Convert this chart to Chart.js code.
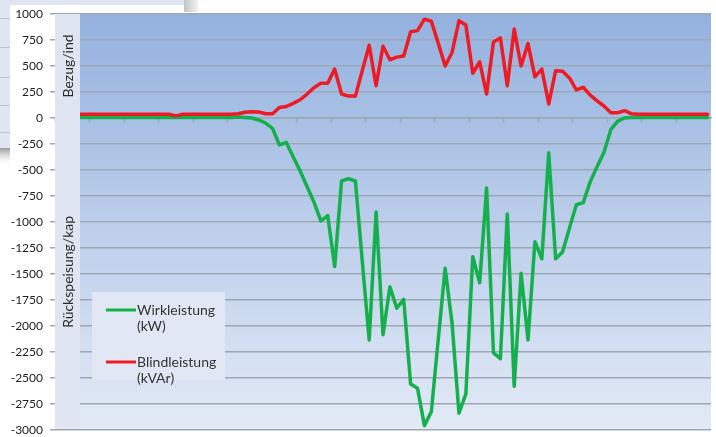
<!DOCTYPE html>
<html>
<head>
<meta charset="utf-8">
<script src="https://cdn.jsdelivr.net/npm/chart.js@4.4.1/dist/chart.umd.min.js"></script>
<style>
  html, body { margin: 0; padding: 0; background: #fff; }
  #wrap { width: 716px; height: 437px; }
</style>
</head>
<body>
<div id="wrap"><canvas id="chart" width="716" height="437"></canvas></div>
<script>
// one value every 15 minutes
var timeLabels = [];
for (var i = 1; i <= 95; i++) {
  var m = i * 15;
  timeLabels.push(String(Math.floor(m / 60)).padStart(2, '0') + ':' + String(m % 60).padStart(2, '0'));
}

var wirkleistung = [
  5, 5, 5, 5, 5, 5, 5, 5, 5, 5, 5, 5, 5, 5, 5, 5, 5, 5, 5, 5, 5, 5, 5, 5, 5, 5,
  8, 5, 0, -20, -50, -100, -260, -235, -375, -510, -660, -810, -990, -940,
  -1430, -605, -585, -605, -1380, -2135, -905, -2085, -1625, -1830, -1745,
  -2560, -2600, -2960, -2825, -2130, -1445, -1975, -2840, -2655, -1335, -1585,
  -675, -2260, -2315, -925, -2580, -1495, -2135, -1190, -1355, -335, -1355,
  -1290, -1060, -835, -815, -615, -470, -330, -110, -30, 0,
  5, 5, 5, 5, 5, 5, 5, 5, 5, 5, 5, 5
];

var blindleistung = [
  35, 35, 35, 35, 35, 35, 35, 35, 35, 35, 35, 35, 35, 35, 35, 35, 35, 20,
  35, 35, 35, 35, 35, 35, 35, 35,
  40, 55, 60, 58, 40, 40, 100, 110, 140, 175, 230, 290, 335, 335,
  470, 230, 210, 210, 455, 700, 310, 690, 560, 585, 595, 830, 840, 950, 930,
  720, 500, 630, 935, 895, 430, 540, 230, 730, 770, 310, 855, 500, 715, 395,
  470, 135, 455, 450, 385, 270, 295, 220, 165, 115, 50, 50, 70, 40,
  35, 35, 35, 35, 35, 35, 35, 35, 35, 35, 35
];

var yMin = -3000;
var yMax = 1000;
var yStep = 250;

var greenColor = '#14b04c';
var redColor = '#ee1b24';
var gridColor = '#9ea7b6';

var background = {
  id: 'background',
  beforeDraw: function (chart) {
    var c = chart.ctx, a = chart.chartArea;
    c.save();
    c.fillStyle = '#fff';
    c.fillRect(0, 0, chart.width, chart.height);
    // window lying behind the chart (top left)
    c.fillStyle = '#dfe6f1';
    c.fillRect(0, 0, 186, 148);
    c.strokeStyle = '#b9c3d3';
    c.lineWidth = 1;
    [18, 47, 77, 105, 132].forEach(function (y) {
      c.beginPath(); c.moveTo(0, y + 0.5); c.lineTo(186, y + 0.5); c.stroke();
    });
    var sh = c.createLinearGradient(0, 148, 0, 166);
    sh.addColorStop(0, '#9a9a9a'); sh.addColorStop(1, 'rgba(255,255,255,0)');
    c.fillStyle = sh;
    c.fillRect(0, 148, 30, 18);
    var sg = c.createLinearGradient(184, 0, 198, 0);
    sg.addColorStop(0, '#c4c4c4'); sg.addColorStop(1, '#f2f2f2');
    c.fillStyle = sg;
    c.fillRect(184, 0, 14, 12);
    // the chart card
    c.fillStyle = '#fff';
    c.fillRect(10, 5, 174, chart.height - 5);
    c.fillRect(10, 12, chart.width - 10, chart.height - 12);
    // plot area gradient
    var g = c.createLinearGradient(0, a.top, 0, a.bottom);
    g.addColorStop(0, '#94b2df');
    g.addColorStop(1, '#e3eaf6');
    c.fillStyle = g;
    c.fillRect(a.left, a.top, a.right - a.left, a.bottom - a.top);
    c.restore();
  }
};

function rotText(c, txt, x, y) {
  c.save();
  c.translate(x, y);
  c.rotate(-Math.PI / 2);
  c.fillText(txt, 0, 0);
  c.restore();
}

var overlay = {
  id: 'overlay',
  afterDatasetsDraw: function (chart) {
    var c = chart.ctx, a = chart.chartArea;
    var y0 = chart.scales.y.getPixelForValue(0);
    c.save();
    // axis title strip
    c.fillStyle = '#dfe6f1';
    c.fillRect(a.left, a.top, 25, a.bottom - a.top - 3);
    c.fillStyle = '#2b2b2b';
    c.font = '14px Lato';
    c.textAlign = 'center';
    c.textBaseline = 'middle';
    rotText(c, 'Bezug/ind', a.left + 13, (a.top + y0) / 2);
    rotText(c, 'Rückspeisung/kap', a.left + 13, (y0 + a.bottom) / 2 - 2);

    // legend box
    c.fillStyle = '#e1e8f4';
    c.fillRect(92, 292, 133, 88);
    var items = [
      { color: greenColor, lines: ['Wirkleistung', '(kW)'], y: 310 },
      { color: redColor, lines: ['Blindleistung', '(kVAr)'], y: 362 }
    ];
    c.textAlign = 'left';
    items.forEach(function (it) {
      c.strokeStyle = it.color;
      c.lineWidth = 3;
      c.beginPath(); c.moveTo(106, it.y); c.lineTo(136, it.y); c.stroke();
      c.fillStyle = '#333';
      c.fillText(it.lines[0], 137, it.y);
      c.fillText(it.lines[1], 137, it.y + 16);
    });
    c.restore();
  }
};

new Chart(document.getElementById('chart').getContext('2d'), {
  type: 'line',
  data: {
    labels: timeLabels,
    datasets: [
      {
        label: 'Wirkleistung (kW)',
        data: wirkleistung,
        borderColor: greenColor,
        borderWidth: 3.5,
        order: 1
      },
      {
        label: 'Blindleistung (kVAr)',
        data: blindleistung,
        borderColor: redColor,
        borderWidth: 3.5,
        order: 0
      }
    ]
  },
  options: {
    responsive: false,
    animation: false,
    devicePixelRatio: 1,
    layout: { autoPadding: false, padding: { left: 0, right: 5, top: 14, bottom: 7 } },
    elements: {
      point: { radius: 0 },
      line: { tension: 0, borderJoinStyle: 'round', borderCapStyle: 'round' }
    },
    plugins: {
      legend: { display: false },
      tooltip: { enabled: false }
    },
    scales: {
      x: {
        offset: true,
        position: { y: 0 },
        afterFit: function (scale) { scale.height = 0; },
        ticks: { display: false },
        grid: {
          offset: true,
          drawOnChartArea: false,
          tickLength: 4,
          tickWidth: 1.5,
          tickColor: function (ctx) { return ctx.index % 5 === 0 ? gridColor : 'rgba(0,0,0,0)'; }
        },
        border: { display: true, color: gridColor, width: 1.5 }
      },
      y: {
        min: yMin,
        max: yMax,
        afterFit: function (scale) { scale.width = 55; },
        ticks: {
          stepSize: yStep,
          padding: 0,
          color: '#222',
          font: { family: 'Lato', size: 12 },
          callback: function (v) { return String(v); }
        },
        grid: {
          color: gridColor,
          lineWidth: 1.5,
          // long tick so labels sit away from the axis, only the last 5px are drawn
          tickLength: 12,
          tickBorderDash: [0, 7, 5, 0],
          tickColor: gridColor
        },
        border: { display: false }
      }
    }
  },
  plugins: [background, overlay]
});
</script>
</body>
</html>
